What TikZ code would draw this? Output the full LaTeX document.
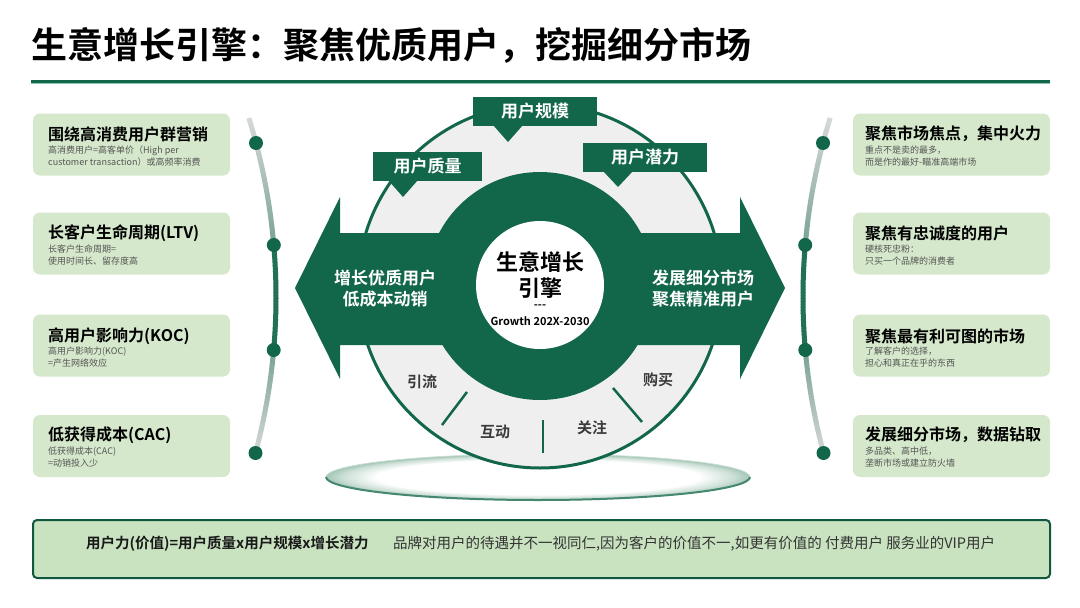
\documentclass[tikz,border=0pt]{standalone}
\usepackage{fontspec}
\setmainfont{Noto Sans CJK SC}[BoldFont={Noto Sans CJK SC Bold}]
\usetikzlibrary{shapes.geometric}
\definecolor{gr}{HTML}{12664A}
\definecolor{boxg}{HTML}{D5E8CB}
\definecolor{barg}{HTML}{C9E3C0}
\definecolor{disc}{HTML}{EFEFEF}
\definecolor{lightg}{HTML}{DDDDDD}
\definecolor{platg}{HTML}{A3C6B5}
\definecolor{subt}{HTML}{555555}
\definecolor{sect}{HTML}{3A3A3A}
\definecolor{lineg}{HTML}{8CC7AE}
\pgfdeclareradialshading{plat}{\pgfpoint{0bp}{0bp}}{color(0bp)=(white); color(19bp)=(white); color(23bp)=(platg!55!white); color(25bp)=(platg); color(50bp)=(platg)}
\tikzset{
  card/.style={fill=boxg, rounded corners=7pt, minimum width=197pt, minimum height=62pt, inner sep=0pt},
  ctitle/.style={anchor=west, inner sep=0pt, font=\fontsize{16}{18}\selectfont\bfseries, text=black},
  csub/.style={anchor=west, inner sep=0pt, align=left, font=\fontsize{9}{12}\selectfont, text=subt},
  dotn/.style={circle, fill=gr, minimum size=14pt, inner sep=0pt},
  callout/.style={fill=gr, text=white, font=\fontsize{17}{20}\selectfont\bfseries, inner sep=0pt, minimum height=29pt},
  arrowtxt/.style={text=white, font=\fontsize{17}{21}\selectfont\bfseries, align=center, inner sep=0pt},
  sector/.style={text=sect, font=\fontsize{15}{18}\selectfont\bfseries, inner sep=0pt},
  divider/.style={draw=gr, line width=2.5pt},
}
\begin{document}
\begin{tikzpicture}[x=1pt,y=-1pt]
\useasboundingbox[fill=white] (0,0) rectangle (1080,608);
% title
\node[anchor=west, inner sep=0pt, font=\fontsize{36}{40}\selectfont\bfseries] (title) at (31,45) {生意增长引擎：聚焦优质用户，挖掘细分市场};
\draw[line width=3pt, gr] (31,81.5) -- (1050,81.5);
\draw[line width=1.2pt, lineg] (31,83.8) -- (1050,83.8);

% side arcs
\foreach \yy in {118,121,...,451}{
  \pgfmathsetmacro\xa{-327+10*sqrt(3636.09-((\yy-297)/10)^2)}
  \pgfmathsetmacro\xb{-327+10*sqrt(3636.09-((\yy+3.5-297)/10)^2)}
  \pgfmathtruncatemacro\pp{(\yy<245) ? (4+46*(\yy-118)/127) : ((\yy<350) ? 92 : (50-46*(\yy-350)/103))}
  \draw[line width=5pt, color=gr!\pp!lightg] (\xa,\yy) -- (\xb,\yy+3.5);
  \draw[line width=5pt, color=gr!\pp!lightg] ({1079-\xa},\yy) -- ({1079-\xb},\yy+3.5);
}
\node[dotn] (ld1) at (256,143) {};
\node[dotn] (ld2) at (273.8,245) {};
\node[dotn] (ld3) at (273.7,350) {};
\node[dotn] (ld4) at (255.5,453) {};
\node[dotn] (rd1) at (823,143) {};
\node[dotn] (rd2) at (805.2,245) {};
\node[dotn] (rd3) at (805.3,350) {};
\node[dotn] (rd4) at (823.5,453) {};

% left cards
\node[card] (l1) at (131.5,144.5) {};
\node[ctitle] (l1t) at (48,134) {围绕高消费用户群营销};
\node[csub] (l1s) at (48,156) {高消费用户=高客单价（High per\\customer transaction）或高频率消费};
\node[card] (l2) at (131.5,243.5) {};
\node[ctitle] (l2t) at (48,233) {长客户生命周期(LTV)};
\node[csub] (l2s) at (48,255) {长客户生命周期=\\使用时间长、留存度高};
\node[card] (l3) at (131.5,345.5) {};
\node[ctitle] (l3t) at (48,336) {高用户影响力(KOC)};
\node[csub] (l3s) at (48,357.5) {高用户影响力(KOC)\\=产生网络效应};
\node[card] (l4) at (131.5,446) {};
\node[ctitle] (l4t) at (48,435) {低获得成本(CAC)};
\node[csub] (l4s) at (48,457.5) {低获得成本(CAC)\\=动销投入少};

% right cards
\node[card] (r1) at (951.5,144.5) {};
\node[ctitle] (r1t) at (865,134) {聚焦市场焦点，集中火力};
\node[csub] (r1s) at (865,156) {重点不是卖的最多，\\而是作的最好-瞄准高端市场};
\node[card] (r2) at (951.5,243.5) {};
\node[ctitle] (r2t) at (865,233) {聚焦有忠诚度的用户};
\node[csub] (r2s) at (865,255) {硬核死忠粉：\\只买一个品牌的消费者};
\node[card] (r3) at (951.5,345.5) {};
\node[ctitle] (r3t) at (865,336) {聚焦最有利可图的市场};
\node[csub] (r3s) at (865,357.5) {了解客户的选择，\\担心和真正在乎的东西};
\node[card] (r4) at (951.5,446) {};
\node[ctitle] (r4t) at (865,435) {发展细分市场，数据钻取};
\node[csub] (r4s) at (865,457.5) {多品类、高中低，\\垄断市场或建立防火墙};

% platform
\shade[shading=plat] (538,477) ellipse [x radius=212pt, y radius=23pt];
\draw[line width=0.8pt, platg!60!white] (538,477) ellipse [x radius=212pt, y radius=23pt];
\draw[line width=2pt, gr!65!platg] (326,477) arc[start angle=180, end angle=360, x radius=212pt, y radius=23pt];

% grey disc
\node[circle, fill=disc, draw=gr, line width=3pt, minimum size=364pt, inner sep=0pt] (disc) at (540,286) {};

% dividers and sector labels
\draw[divider] (467,392) -- (442,425);
\draw[divider] (543,420) -- (543,453);
\draw[divider] (613,388) -- (642,422);
\node[sector] (s1) at (422,382) {引流};
\node[sector] (s2) at (495,432) {互动};
\node[sector] (s3) at (592,428) {关注};
\node[sector] (s4) at (658,380) {购买};

% double arrow and dark ring
\fill[gr] (295,288) -- (340,197) -- (340,233) -- (740,233) -- (740,197) -- (785,288) -- (740,379) -- (740,345) -- (340,345) -- (340,379) -- cycle;
\node[circle, fill=gr, minimum size=228pt, inner sep=0pt] (ring) at (540,286) {};
\node[circle, fill=white, minimum size=128pt, inner sep=0pt] (hub) at (540,285) {};

\node[arrowtxt] (la) at (385,289) {增长优质用户\\低成本动销};
\node[arrowtxt] (ra) at (703,289) {发展细分市场\\聚焦精准用户};

\node[inner sep=0pt, align=center, font=\fontsize{22}{26}\selectfont\bfseries] (ct) at (540,275) {生意增长\\引擎};
\node[inner sep=0pt, font=\fontsize{11}{12}\selectfont\bfseries] (dash) at (540,307) {-{}-{}-};
\node[inner sep=0pt, font=\fontsize{11}{12}\selectfont\bfseries] (gro) at (540,321) {Growth 202X-2030};

% callouts
\node[callout, minimum width=124pt] (cs) at (535,111.5) {用户规模};
\fill[gr] (493,125) -- (523,125) -- (508,142) -- cycle;
\node[callout, minimum width=109pt] (cq) at (427.5,166.5) {用户质量};
\fill[gr] (388,180) -- (418,180) -- (403,197) -- cycle;
\node[callout, minimum width=124pt] (cp) at (645,157.5) {用户潜力};
\fill[gr] (603,171) -- (633,171) -- (618,187) -- cycle;

% bottom bar
\draw[fill=barg, draw=gr!85!black, line width=2pt, rounded corners=4pt] (33,520) rectangle (1050,578);
\node[anchor=west, inner sep=0pt, font=\fontsize{14.5}{16}\selectfont\bfseries, text=black!90] (bf) at (86,544) {用户力(价值)=用户质量x用户规模x增长潜力};
\node[anchor=west, inner sep=0pt, font=\fontsize{14.5}{16}\selectfont, text=black!80] (bt) at (393,544) {品牌对用户的待遇并不一视同仁,因为客户的价值不一,如更有价值的 付费用户 服务业的VIP用户};
\end{tikzpicture}
\end{document}
